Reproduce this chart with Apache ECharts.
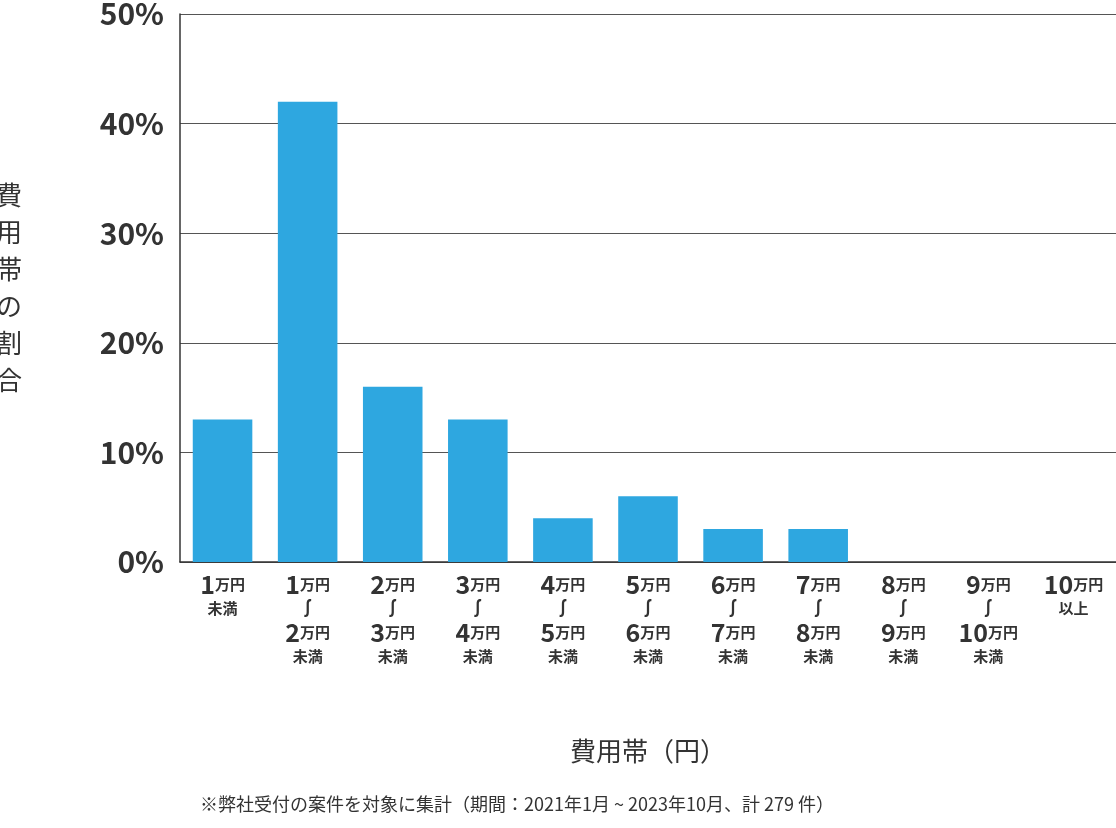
<!DOCTYPE html>
<html><head><meta charset="utf-8">
<script src="https://cdn.jsdelivr.net/npm/echarts@6/dist/echarts.min.js"></script>
<style>body{margin:0;background:#fff}#c{width:1116px;height:828px}</style>
</head><body><div id="c"></div>
<script>
const categories = ["1万円\n未満","1万円\n≀\n2万円\n未満","2万円\n≀\n3万円\n未満","3万円\n≀\n4万円\n未満","4万円\n≀\n5万円\n未満","5万円\n≀\n6万円\n未満","6万円\n≀\n7万円\n未満","7万円\n≀\n8万円\n未満","8万円\n≀\n9万円\n未満","9万円\n≀\n10万円\n未満","10万円\n以上"];
const values = [13, 42, 16, 13, 4, 6, 3, 3, 0, 0, 0];
const yTicks = [0, 10, 20, 30, 40, 50];
const chart = echarts.init(document.getElementById('c'));
const F = '"Noto Sans CJK JP","Noto Sans",sans-serif';
chart.setOption({
  animation:false,
  grid:{left:180,right:0,top:14,bottom:266,containLabel:false,outerBoundsMode:'none'},
  xAxis:{type:'category',data:categories,
    axisLine:{lineStyle:{color:'#333',width:1.5}},axisTick:{show:false},
    axisLabel:{interval:0,margin:10,lineHeight:24,
      formatter:v=>v.split('\n').map(l=>{
        if(l==='≀') return '{w|∫}';
        const m=l.match(/^(\d+)(.*)$/);
        if(m) return '{n|'+m[1]+'}{k|'+m[2]+'}';
        return '{k|'+l+'}';
      }).join('\n'),
      rich:{n:{fontSize:25,fontWeight:'bold',color:'#333',fontFamily:F,lineHeight:24},
            k:{fontSize:15,fontWeight:'bold',color:'#333',fontFamily:F,lineHeight:24},
            w:{fontSize:18,fontWeight:'bold',color:'#333',fontFamily:F,lineHeight:24}}},
    name:'費用帯（円）',nameLocation:'middle',nameGap:176,
    nameTextStyle:{fontSize:26,color:'#333',fontFamily:F}},
  yAxis:{type:'value',min:yTicks[0],max:yTicks[yTicks.length-1],interval:10,
    axisLine:{show:true,lineStyle:{color:'#333',width:1.5}},
    splitLine:{lineStyle:{color:'#555',width:1}},
    axisLabel:{formatter:'{value}%',fontSize:30,fontWeight:'bold',color:'#333',fontFamily:F,margin:16},
    name:'費\n用\n帯\nの\n割\n合',nameLocation:'middle',nameGap:158,nameRotate:0,
    nameTextStyle:{fontSize:26,color:'#333',fontFamily:F,lineHeight:37}},
  series:[{type:'bar',data:values,barWidth:'70%',itemStyle:{color:'#2EA7E0'}}],
  graphic:[{type:'text',left:200,top:795,
    style:{text:'※弊社受付の案件を対象に集計（期間：2021年1月 ~ 2023年10月、計 279 件）',fontSize:18,fill:'#333',fontFamily:F}}]
});
</script></body></html>
